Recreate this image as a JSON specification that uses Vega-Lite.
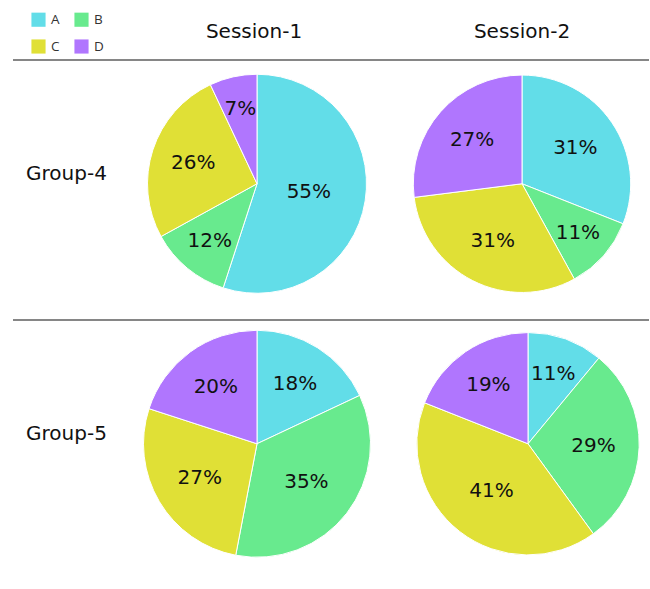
{
  "$schema": "https://vega.github.io/schema/vega-lite/v6.json",
  "width": 650,
  "height": 589,
  "autosize": {"type": "fit", "contains": "padding"},
  "padding": {"left": 12, "top": 0, "right": 0, "bottom": 0},
  "background": "white",
  "config": {"view": {"stroke": null}, "font": "DejaVu Sans"},
  "data": {
    "values": [
      {"Group": "Group-4", "Session": "Session-1", "cat": "A", "value": 0.55},
      {"Group": "Group-4", "Session": "Session-1", "cat": "B", "value": 0.12},
      {"Group": "Group-4", "Session": "Session-1", "cat": "C", "value": 0.26},
      {"Group": "Group-4", "Session": "Session-1", "cat": "D", "value": 0.07},
      {"Group": "Group-4", "Session": "Session-2", "cat": "A", "value": 0.31},
      {"Group": "Group-4", "Session": "Session-2", "cat": "B", "value": 0.11},
      {"Group": "Group-4", "Session": "Session-2", "cat": "C", "value": 0.31},
      {"Group": "Group-4", "Session": "Session-2", "cat": "D", "value": 0.27},
      {"Group": "Group-5", "Session": "Session-1", "cat": "A", "value": 0.18},
      {"Group": "Group-5", "Session": "Session-1", "cat": "B", "value": 0.35},
      {"Group": "Group-5", "Session": "Session-1", "cat": "C", "value": 0.27},
      {"Group": "Group-5", "Session": "Session-1", "cat": "D", "value": 0.20},
      {"Group": "Group-5", "Session": "Session-2", "cat": "A", "value": 0.11},
      {"Group": "Group-5", "Session": "Session-2", "cat": "B", "value": 0.29},
      {"Group": "Group-5", "Session": "Session-2", "cat": "C", "value": 0.41},
      {"Group": "Group-5", "Session": "Session-2", "cat": "D", "value": 0.19}
    ]
  },
  "layer": [
    {
      "data": {"values": [{"Group": "Group-4"}, {"Group": "Group-5"}]},
      "mark": {"type": "rule", "color": "#5e5e5e", "strokeWidth": 1.5},
      "encoding": {
        "y": {"field": "Group", "type": "nominal", "bandPosition": 0,
              "scale": {"type": "band", "domain": ["Group-4", "Group-5"], "range": [60, 580], "paddingInner": 0, "paddingOuter": 0},
              "axis": {"orient": "left", "offset": -60, "title": null, "domain": false, "ticks": false, "grid": false,
                       "labelPadding": 7, "labelAlign": "center", "labelBaseline": "alphabetic", "labelOffset": -10.5,
                       "labelFontSize": 20, "labelFont": "DejaVu Sans", "labelColor": "#111"}}
      }
    },
    {
      "transform": [{"filter": "datum.Group === 'Group-4' && datum.Session === 'Session-1'"}],
      "mark": {"type": "arc", "outerRadius": 109.5, "stroke": "white", "strokeWidth": 1},
      "encoding": {
        "x": {"field": "Session", "type": "nominal",
              "scale": {"type": "band", "domain": ["Session-1", "Session-2"], "range": [110, 646], "paddingInner": 0, "paddingOuter": 0},
              "axis": {"orient": "top", "offset": -45, "title": null, "domain": false, "ticks": false, "grid": false,
                       "labelPadding": 8, "labelBaseline": "alphabetic", "labelOffset": -3,
                       "labelFontSize": 20, "labelFont": "DejaVu Sans", "labelColor": "#111", "labelAngle": 0}},
        "y": {"field": "Group", "type": "nominal", "bandPosition": 0.476},
        "theta": {"field": "value", "type": "quantitative", "stack": true, "scale": {"domain": [0, 1]}},
        "order": {"field": "cat"},
        "color": {"field": "cat", "type": "nominal",
                  "scale": {"domain": ["A", "B", "C", "D"], "range": ["#62dde8", "#68ea8e", "#e0e036", "#b076fe"]},
                  "legend": {"title": null, "orient": "none", "legendX": 18, "legendY": 12, "columns": 2,
                             "values": ["A", "C", "B", "D"],
                             "symbolType": "square", "symbolSize": 200, "symbolStrokeWidth": 0, "symbolOpacity": 1,
                             "labelFontSize": 13.5, "labelFont": "Open Sans", "labelColor": "#333",
                             "rowPadding": 12, "columnPadding": 14, "labelOffset": 5, "padding": 0}}
      }
    },
    {
      "transform": [{"filter": "datum.Group === 'Group-4' && datum.Session === 'Session-2'"}],
      "mark": {"type": "arc", "outerRadius": 108.7, "stroke": "white", "strokeWidth": 1, "xOffset": -3},
      "encoding": {
        "x": {"field": "Session", "type": "nominal"},
        "y": {"field": "Group", "type": "nominal", "bandPosition": 0.476},
        "theta": {"field": "value", "type": "quantitative", "stack": true},
        "order": {"field": "cat"},
        "color": {"field": "cat", "type": "nominal"}
      }
    },
    {
      "transform": [{"filter": "datum.Group === 'Group-5' && datum.Session === 'Session-1'"}],
      "mark": {"type": "arc", "outerRadius": 113.5, "stroke": "white", "strokeWidth": 1},
      "encoding": {
        "x": {"field": "Session", "type": "nominal"},
        "y": {"field": "Group", "type": "nominal", "bandPosition": 0.476},
        "theta": {"field": "value", "type": "quantitative", "stack": true},
        "order": {"field": "cat"},
        "color": {"field": "cat", "type": "nominal"}
      }
    },
    {
      "transform": [{"filter": "datum.Group === 'Group-5' && datum.Session === 'Session-2'"}],
      "mark": {"type": "arc", "outerRadius": 111.2, "stroke": "white", "strokeWidth": 1, "xOffset": 3},
      "encoding": {
        "x": {"field": "Session", "type": "nominal"},
        "y": {"field": "Group", "type": "nominal", "bandPosition": 0.476},
        "theta": {"field": "value", "type": "quantitative", "stack": true},
        "order": {"field": "cat"},
        "color": {"field": "cat", "type": "nominal"}
      }
    },
    {
      "transform": [{"filter": "datum.Group === 'Group-4' && datum.Session === 'Session-1'"}],
      "mark": {"type": "text", "fontSize": 20, "font": "DejaVu Sans", "color": "#111"},
      "encoding": {
        "x": {"field": "Session", "type": "nominal"},
        "y": {"field": "Group", "type": "nominal", "bandPosition": 0.476},
        "theta": {"field": "value", "type": "quantitative", "stack": true},
        "radius": {"field": "value", "type": "quantitative", "scale": {"type": "linear", "zero": false, "domain": [0, 0.6], "range": [80, 50]}},
        "order": {"field": "cat"},
        "text": {"field": "value", "type": "quantitative", "format": ".0%"}
      }
    },
    {
      "transform": [{"filter": "datum.Group === 'Group-4' && datum.Session === 'Session-2'"}],
      "mark": {"type": "text", "fontSize": 20, "font": "DejaVu Sans", "color": "#111", "xOffset": -3},
      "encoding": {
        "x": {"field": "Session", "type": "nominal"},
        "y": {"field": "Group", "type": "nominal", "bandPosition": 0.476},
        "theta": {"field": "value", "type": "quantitative", "stack": true},
        "radius": {"field": "value", "type": "quantitative"},
        "order": {"field": "cat"},
        "text": {"field": "value", "type": "quantitative", "format": ".0%"}
      }
    },
    {
      "transform": [{"filter": "datum.Group === 'Group-5' && datum.Session === 'Session-1'"}],
      "mark": {"type": "text", "fontSize": 20, "font": "DejaVu Sans", "color": "#111"},
      "encoding": {
        "x": {"field": "Session", "type": "nominal"},
        "y": {"field": "Group", "type": "nominal", "bandPosition": 0.476},
        "theta": {"field": "value", "type": "quantitative", "stack": true},
        "radius": {"field": "value", "type": "quantitative"},
        "order": {"field": "cat"},
        "text": {"field": "value", "type": "quantitative", "format": ".0%"}
      }
    },
    {
      "transform": [{"filter": "datum.Group === 'Group-5' && datum.Session === 'Session-2'"}],
      "mark": {"type": "text", "fontSize": 20, "font": "DejaVu Sans", "color": "#111", "xOffset": 3},
      "encoding": {
        "x": {"field": "Session", "type": "nominal"},
        "y": {"field": "Group", "type": "nominal", "bandPosition": 0.476},
        "theta": {"field": "value", "type": "quantitative", "stack": true},
        "radius": {"field": "value", "type": "quantitative"},
        "order": {"field": "cat"},
        "text": {"field": "value", "type": "quantitative", "format": ".0%"}
      }
    }
  ]
}
